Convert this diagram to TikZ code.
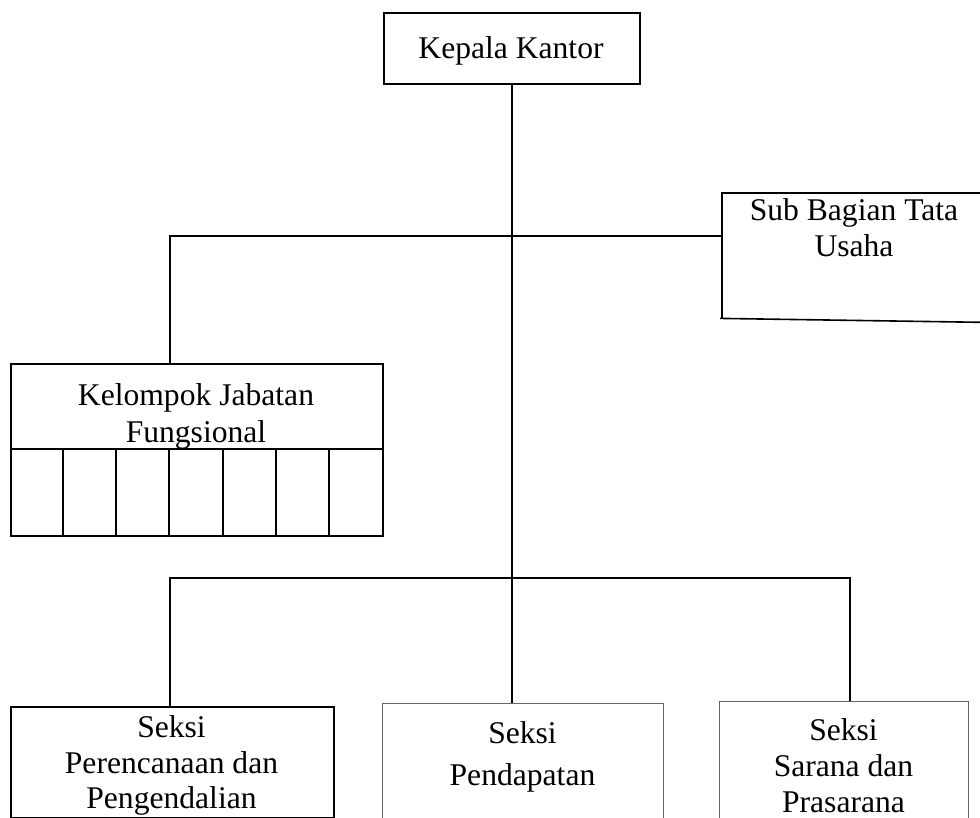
\documentclass[tikz,border=0pt]{standalone}
\usepackage{fontspec}
\setmainfont{Liberation Serif}
\begin{document}
\begin{tikzpicture}[x=1pt,y=-1pt,
  font=\fontsize{31.6}{36}\selectfont,
  line/.style={line width=2pt},
  box/.style={draw, line width=2pt, inner sep=0pt, anchor=north west},
  thinbox/.style={draw=black!60, line width=1.1pt, inner sep=0pt, anchor=north west},
  lbl/.style={inner sep=0pt, align=center, anchor=north},
]
\useasboundingbox (0,0) rectangle (980,818);
\clip (0,0) rectangle (980,818);

% boxes
\node[box, minimum width=256pt, minimum height=71pt] (kepala) at (383,12) {};
\node[inner sep=0pt, anchor=base] (kepalatext) at (511,58.5) {Kepala Kantor};

\node[inner sep=0pt, minimum width=264pt, minimum height=125pt, anchor=north west] (sub) at (722,193) {};
\draw[line] (sub.north east) -- (sub.north west) -- (sub.south west);
\draw[line width=1.6pt] ([xshift=-2pt]sub.south west) -- ([yshift=-4pt]sub.south east);
\node[lbl, font=\fontsize{31.6}{36}\selectfont] (subtext) at (854,198.4) {Sub Bagian Tata\\Usaha};

\node[box, minimum width=372pt, minimum height=172pt] (kel) at (10,363) {};
\draw[line] ([yshift=-86pt]kel.north west) -- ([yshift=-86pt]kel.north east);
\foreach \i in {1,...,6}
  \draw[line] ({10+\i*53.14},449) -- ({10+\i*53.14},535);
\node[lbl, font=\fontsize{31.6}{37}\selectfont] (keltext) at (196,383.4) {Kelompok Jabatan\\Fungsional};

\node[box, minimum width=323pt, minimum height=111pt] (s1) at (10,706) {};
\node[lbl, font=\fontsize{31.6}{35.7}\selectfont] (s1text) at (171.5,715.4) {Seksi\\Perencanaan dan\\Pengendalian};

\node[thinbox, minimum width=281pt, minimum height=130pt] (s2) at (382,703) {};
\node[lbl, font=\fontsize{31.6}{42}\selectfont] (s2text) at (522.5,721.4) {Seksi\\Pendapatan};

\node[thinbox, minimum width=249pt, minimum height=130pt] (s3) at (719,701) {};
\node[lbl, font=\fontsize{31.6}{36}\selectfont] (s3text) at (843.5,718.4) {Seksi\\Sarana dan\\Prasarana};

% connectors
\coordinate (b1) at (170,236);
\coordinate (b2) at (170,578);
\coordinate (b3) at (850,578);
\draw[line] (kepala.south) -- (kepala.south |- s2.north);
\draw[line] (b1 |- kel.north) -- (b1) -- (b1 -| sub.west);
\draw[line] (b2 |- s1.north) -- (b2) -- (b3) -- (b3 |- s3.north);
\end{tikzpicture}
\end{document}
